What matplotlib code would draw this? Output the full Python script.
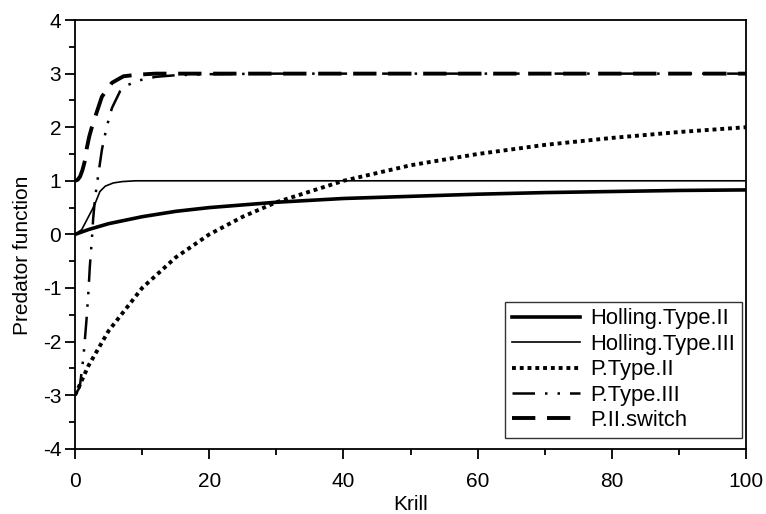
import numpy as np
import matplotlib.pyplot as plt
from matplotlib.ticker import MultipleLocator

# =====================================================
# DATA
# =====================================================

x_h2 = [0, 2, 5, 10, 15, 20, 30, 40, 50, 60, 70, 80, 90, 100]
y_h2 = [0, 0.09, 0.2, 0.33, 0.43, 0.5, 0.6, 0.67, 0.71, 0.75, 0.78, 0.8, 0.82, 0.83]

x_h3 = [0, 1, 2, 2.5, 3, 3.7, 4.5, 5.7, 7, 9, 12, 20, 50, 100]
y_h3 = [0, 0.09, 0.33, 0.45, 0.58, 0.8, 0.9, 0.96, 0.985, 1.0, 1.0, 1.0, 1.0, 1.0]

x_p2 = [0, 2, 5, 10, 15, 20, 25, 30, 40, 50, 60, 70, 80, 90, 100]
y_p2 = [-3, -2.45, -1.8, -1.0, -0.43, 0, 0.33, 0.6, 1.0, 1.29, 1.5, 1.67, 1.8, 1.91, 2.0]

x_p3 = [0, 0.7, 1.24, 1.7, 2.0, 2.2, 2.5, 2.7, 3.0, 3.5, 4.0, 4.7, 5.5, 6.7, 7.9, 9.4, 12, 15, 20, 30, 100]
y_p3 = [-3, -2.85, -2.3, -1.6, -1.05, -0.6, -0.1, 0.3, 0.7, 1.15, 1.58, 2.0, 2.36, 2.67, 2.79, 2.87, 2.94, 2.97, 2.99, 3.0, 3.0]

x_sw = [0, 0.4, 0.75, 1.1, 1.5, 1.75, 2.1, 2.5, 3.2, 4.0, 5.5, 7.2, 9.2, 12, 100]
y_sw = [1, 1.02, 1.08, 1.2, 1.39, 1.61, 1.82, 2.0, 2.27, 2.57, 2.83, 2.95, 2.98, 3.0, 3.0]

labels = [
    "Holling.Type.II",
    "Holling.Type.III",
    "P.Type.II",
    "P.Type.III",
    "P.II.switch"
]

# =====================================================
# PLOT
# =====================================================

plt.rcParams["font.family"] = ["Liberation Sans", "DejaVu Sans"]
plt.rcParams["font.size"] = 15
plt.rcParams["axes.unicode_minus"] = False

fig = plt.figure(figsize=(7.66, 5.14), dpi=100)
ax = fig.add_axes([0.098, 0.127, 0.876, 0.834])

ax.plot(x_h2, y_h2, color="black", lw=2.6, label=labels[0])
ax.plot(x_h3, y_h3, color="black", lw=1.2, label=labels[1])
ax.plot(x_p2, y_p2, color="black", lw=2.8,
        linestyle=(0, (1, 1)), label=labels[2])
ax.plot(x_p3, y_p3, color="black", lw=1.8,
        linestyle=(0, (9, 4, 1, 4, 1, 4)), label=labels[3])
ax.plot(x_sw, y_sw, color="black", lw=2.8,
        linestyle=(0, (6, 3)), label=labels[4])

ax.set_xlim(0, 100)
ax.set_ylim(-4, 4)

ax.xaxis.set_major_locator(MultipleLocator(20))
ax.xaxis.set_minor_locator(MultipleLocator(10))
ax.yaxis.set_major_locator(MultipleLocator(1))
ax.yaxis.set_minor_locator(MultipleLocator(0.5))

ax.tick_params(
    which="both",
    direction="out",
    top=False,
    right=False,
    width=1.3,
    labelsize=15
)
ax.tick_params(which="major", length=7)
ax.tick_params(which="minor", length=4)
ax.tick_params(axis="x", which="major", pad=10)
ax.tick_params(axis="y", which="major", pad=3)

for s in ax.spines.values():
    s.set_linewidth(1.3)

ax.set_xlabel("Krill", fontsize=15)
ax.set_ylabel("Predator function", fontsize=15)
ax.xaxis.set_label_coords(0.5, -0.108)
ax.yaxis.set_label_coords(-0.064, 0.452)

leg = ax.legend(
    loc="lower right",
    bbox_to_anchor=(0.994, 0.026),
    borderaxespad=0,
    fancybox=False,
    frameon=True,
    edgecolor="black",
    handlelength=3.1,
    handletextpad=0.5,
    labelspacing=0.2,
    borderpad=0.3,
    fontsize=15.8
)
leg.get_frame().set_linewidth(1.0)

fig.savefig("out.png", dpi=100)
